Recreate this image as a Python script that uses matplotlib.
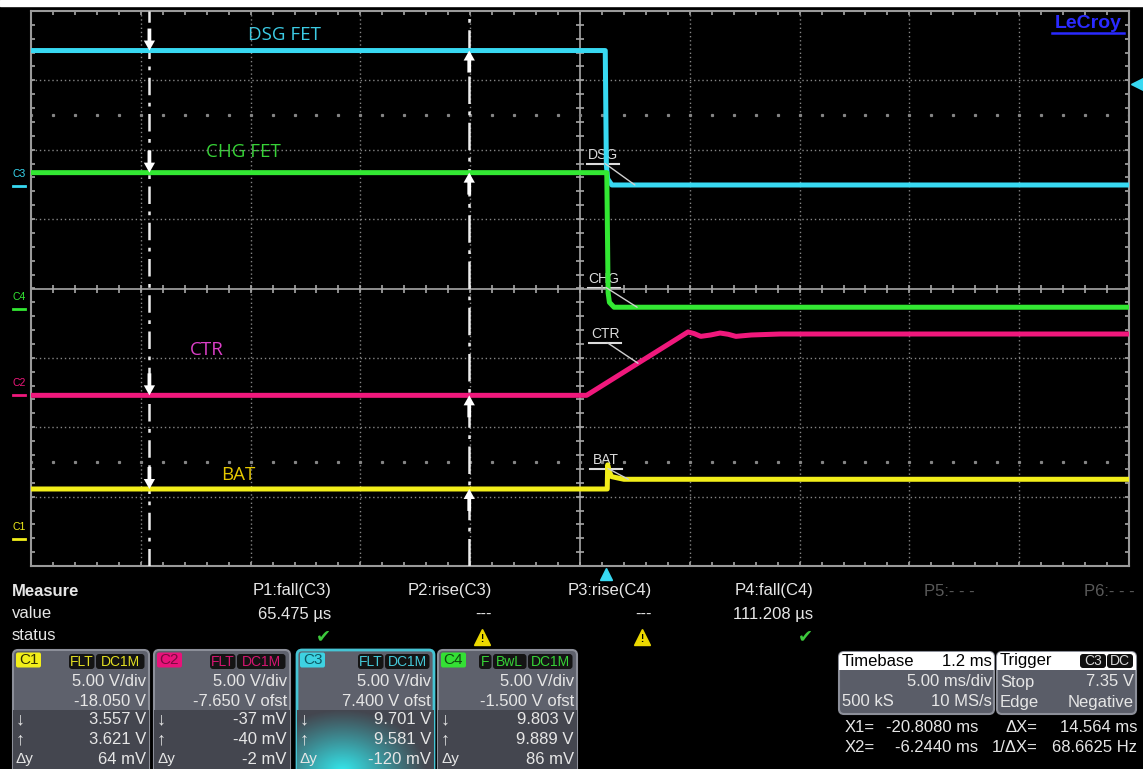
import numpy as np
import matplotlib
matplotlib.use('Agg')
import matplotlib.pyplot as plt
from matplotlib.patches import FancyBboxPatch, Rectangle
from matplotlib.transforms import blended_transform_factory, offset_copy

W, H = 1143, 769

# screen grid in pixels
GX0, GX1, GY0, GY1 = 31, 1129, 11, 566

# timebase / vertical setup
T_LEFT = -26.2          # ms at left edge (delay 1.2 ms)
MS_DIV = 5.0
VOLT_DIV = 5.0
ofst = {'C1': -18.05, 'C2': -7.65, 'C3': 7.40, 'C4': -1.50}

# traces (time in ms, volts)
dsg_t = [-26.2, -0.05, 0.00, 0.06, 0.25, 23.8]
dsg_v = [9.75, 9.75, 1.50, 0.50, 0.06, 0.06]
chg_t = [-26.2, 0.02, 0.08, 0.14, 0.35, 23.8]
chg_v = [9.85, 9.85, 1.20, 0.50, 0.15, 0.15]
ctr_t = [-26.2, -0.9, 3.72, 4.0, 4.3, 4.75, 5.18, 5.55, 5.9, 6.6, 7.9, 23.8]
ctr_v = [-0.05, -0.05, 4.52, 4.40, 4.20, 4.30, 4.44, 4.35, 4.20, 4.30, 4.37, 4.37]
bat_t = [-26.2, 0.04, 0.06, 0.12, 0.24, 0.8, 23.8]
bat_v = [3.60, 3.60, 5.34, 4.90, 4.49, 4.30, 4.30]

X1, X2 = -20.808, -6.244
TRIG_LEVEL = 7.35

CYAN, GREEN, MAGENTA, YELLOW = '#38d9f2', '#33e833', '#f0187c', '#f2ee1a'
GRID = '#858585'
FG = '#e6e6e6'
PANEL = ['Liberation Sans', 'DejaVu Sans']
LABEL = ['Open Sans', 'DejaVu Sans']

fig = plt.figure(figsize=(W / 100, H / 100), dpi=100, facecolor='black')
pan = fig.add_axes([0, 0, 1, 1], zorder=0)
pan.axis('off')
ax = fig.add_axes([GX0 / W, 1 - GY1 / H, (GX1 - GX0) / W, (GY1 - GY0) / H], zorder=1)
ax.set_facecolor('none')
T_RIGHT = T_LEFT + 10 * MS_DIV
ax.set_xlim(T_LEFT, T_RIGHT)
ax.set_ylim(-4, 4)
ax.set_xticks([])
ax.set_yticks([])
for s in ax.spines.values():
    s.set_color('#9a9a9a')
    s.set_linewidth(1.5)


def to_div(v, ch):
    return (np.asarray(v, dtype=float) + ofst[ch]) / VOLT_DIV


# grid
t_center = T_LEFT + 5 * MS_DIV
for k in range(1, 10):
    if k != 5:
        ax.axvline(T_LEFT + k * MS_DIV, color=GRID, lw=1, ls=(0, (1, 2)))
for d in range(-3, 4):
    if d != 0:
        ax.axhline(d, color=GRID, lw=1, ls=(0, (1, 2)))
ax.axvline(t_center, color='#a8a8a8', lw=1.2)
ax.axhline(0, color='#a8a8a8', lw=1.2)
minor_t = np.arange(T_LEFT, T_RIGHT + 0.01, 1.0)
minor_d = np.arange(-4, 4.01, 0.2)
for yy in (0, -4, 4):
    ax.plot(minor_t, np.full_like(minor_t, yy), ls='none', marker='|', ms=6,
            mew=1.2, color='#a8a8a8')
for xx in (t_center, T_LEFT, T_RIGHT):
    ax.plot(np.full_like(minor_d, xx), minor_d, ls='none', marker='_', ms=6,
            mew=1.2, color='#a8a8a8')
for yy in (2.5, -2.5):
    ax.plot(minor_t, np.full_like(minor_t, yy), ls='none', marker='s', ms=1.3,
            color=GRID)

# cursors
ax.axvline(X1, color='#ececec', lw=1.8, ls=(0, (7, 3, 1.5, 3)), zorder=3)
ax.axvline(X2, color='#ececec', lw=1.8, ls=(0, (11, 3, 1.5, 3)), zorder=3)

traces = [(dsg_t, dsg_v, 'C3', CYAN), (chg_t, chg_v, 'C4', GREEN),
          (ctr_t, ctr_v, 'C2', MAGENTA), (bat_t, bat_v, 'C1', YELLOW)]
for t, v, ch, col in traces:
    ax.plot(t, to_div(v, ch), color=col, lw=3.6, solid_joinstyle='round',
            solid_capstyle='butt', zorder=4)

arrow_style = 'simple,head_length=0.8,head_width=0.9,tail_width=0.3'
for t, v, ch, col in traces:
    for xc, up in ((X1, False), (X2, True)):
        lvl = to_div(np.interp(xc, t, v), ch)
        ax.annotate('', xy=(xc, lvl), xytext=(0, -22 if up else 22),
                    textcoords='offset pixels', zorder=6,
                    arrowprops=dict(arrowstyle=arrow_style, fc='white', ec='none',
                                    shrinkA=0, shrinkB=0, mutation_scale=9))

# trace names
names = [('DSG FET', 285, 35, '#3ccbe4'), ('CHG FET', 243, 152, '#36d236'),
         ('CTR', 207, 350, '#dc3fc8'), ('BAT', 238, 475, '#e6c800')]
for s, x, y, c in names:
    pan.text(x, y, s, color=c, fontsize=13.5, family=LABEL, ha='center', va='center')

# transition call-outs
callouts = [('DSG', 603, 155, dsg_t, dsg_v, 'C3', 1.30),
            ('CHG', 604, 279, chg_t, chg_v, 'C4', 1.40),
            ('CTR', 605, 334, ctr_t, ctr_v, 'C2', 1.44),
            ('BAT', 606, 460, bat_t, bat_v, 'C1', 1.00)]
for s, x, y, t, v, ch, tp in callouts:
    pan.text(x, y, s, color='#dcdcdc', fontsize=10, family=PANEL, ha='center', va='center')
    pan.plot([x - 16, x + 16], [y + 8.5, y + 8.5], color='#dcdcdc', lw=1.5)
    ax.annotate('', xy=(tp, to_div(np.interp(tp, t, v), ch)), xytext=(x + 2, y + 8.5),
                textcoords=pan.transData, zorder=5,
                arrowprops=dict(arrowstyle='-', color='#d0d0d0', lw=1,
                                shrinkA=0, shrinkB=0))

# channel ground markers, trigger markers
trans_y = blended_transform_factory(pan.transData, ax.transData)
trans_lab = offset_copy(trans_y, fig=fig, x=0, y=12, units='dots')
for ch, col in (('C3', CYAN), ('C4', GREEN), ('C2', MAGENTA), ('C1', YELLOW)):
    g = ofst[ch] / VOLT_DIV
    pan.plot([13, 25], [g, g], color=col, lw=2, transform=trans_y)
    pan.text(19, g, ch, color=col, fontsize=7.5, family=PANEL, ha='center',
             va='center', transform=trans_lab)
pan.plot([1137], [to_div(TRIG_LEVEL, 'C3')], marker='<', ms=8, color=CYAN,
         transform=trans_y, ls='none')
trans_x = blended_transform_factory(ax.transData, pan.transData)
pan.plot([0.0], [574], marker='^', ms=9, color=CYAN, transform=trans_x, ls='none')

# top white strip and LeCroy logo
pan.add_patch(Rectangle((0, 0), W, 5.5, color='white', zorder=2))
pan.text(1088, 23, 'LeCroy', color='#2a2aff', fontsize=14, fontweight='bold',
         family=PANEL, ha='center', va='center')
pan.plot([1052, 1124], [33, 33], color='#2a2aff', lw=1.8)


def txt(x, y, s, ha='left', color=FG, size=12, weight='normal', z=5):
    pan.text(x, y, s, ha=ha, va='center', color=color, fontsize=size,
             fontweight=weight, family=PANEL, zorder=z)


# measure table
meas_hdr = ['P1:fall(C3)', 'P2:rise(C3)', 'P3:rise(C4)', 'P4:fall(C4)', 'P5:- - -', 'P6:- - -']
meas_val = ['65.475 µs', '---', '---', '111.208 µs', '', '']
meas_ok = [True, False, False, True, None, None]
col_right = [331, 492, 652, 813, 975, 1135]
txt(12, 591, 'Measure', weight='bold')
txt(12, 614, 'value')
txt(12, 636, 'status')
for i, (hd, val, ok) in enumerate(zip(meas_hdr, meas_val, meas_ok)):
    xr = col_right[i]
    txt(xr, 591, hd, ha='right', color=FG if ok is not None else '#5a5a5a')
    txt(xr, 614, val, ha='right')
    if ok is True:
        pan.text(xr - 8, 636, '\u2714', color='#3cc83c', fontsize=13,
                 family='DejaVu Sans', ha='center', va='center')
    elif ok is False:
        pan.plot([xr - 10], [637], marker='^', ms=11, color='#ecd800', ls='none')
        pan.text(xr - 10, 638.5, '!', color='black', fontsize=7, fontweight='bold',
                 family=PANEL, ha='center', va='center')

# channel boxes
ch_names = ['C1', 'C2', 'C3', 'C4']
ch_vdiv = ['5.00 V/div', '5.00 V/div', '5.00 V/div', '5.00 V/div']
ch_ofst = ['-18.050 V', '-7.650 V ofst', '7.400 V ofst', '-1.500 V ofst']
ch_down = ['3.557 V', '-37 mV', '9.701 V', '9.803 V']
ch_up = ['3.621 V', '-40 mV', '9.581 V', '9.889 V']
ch_dy = ['64 mV', '-2 mV', '-120 mV', '86 mV']
ch_badges = [['FLT', 'DC1M'], ['FLT', 'DC1M'], ['FLT', 'DC1M'], ['F', 'BwL', 'DC1M']]
ch_col = [YELLOW, '#e8127a', '#3ed2e2', '#34e034']
ch_dark = ['#303000', '#7a0a40', '#0c5a66', '#0e4a0e']
ch_badge_txt = ['#e2de22', '#d41470', '#44c8d8', '#36d236']
box_l = [13, 154, 297, 438]
box_r = [149, 290, 434, 577]
badge_w = {'FLT': 27, 'DC1M': 50, 'F': 14, 'BwL': 35}

for i in range(4):
    l, r = box_l[i], box_r[i]
    border = '#46c4d4' if i == 2 else '#8c8f99'
    body = FancyBboxPatch((l, 650), r - l, 130, boxstyle='round,pad=0,rounding_size=5',
                          fc='#5e616c', ec=border, lw=2 if i == 2 else 1.5, zorder=2)
    pan.add_patch(body)
    low = Rectangle((l, 710), r - l, 70, fc='#44464f', ec='none', zorder=2.1)
    pan.add_patch(low)
    low.set_clip_path(body)
    if i == 2:
        yy, xx = np.mgrid[0:90, 0:137]
        rr = np.sqrt(((xx - 45) / 85.0) ** 2 + ((yy - 92) / 62.0) ** 2)
        glow = np.zeros((90, 137, 4))
        glow[..., 0], glow[..., 1], glow[..., 2] = 0.2, 0.92, 0.94
        glow[..., 3] = np.clip(1 - rr, 0, 1) ** 1.1
        im = pan.imshow(glow, extent=(l, r, 769, 679), origin='upper',
                        aspect='auto', zorder=2.2, interpolation='bilinear')
        im.set_clip_path(body)
    # header badges
    pan.add_patch(FancyBboxPatch((l + 3, 652.5), 25, 15, boxstyle='round,pad=0,rounding_size=2',
                                 fc=ch_col[i], ec='none', zorder=3))
    txt(l + 15.5, 660.5, ch_names[i], ha='center', color=ch_dark[i], size=11)
    xr = r - 3
    for b in reversed(ch_badges[i]):
        bw = badge_w[b] if not (b == 'DC1M' and i >= 2) else 46
        pan.add_patch(FancyBboxPatch((xr - bw, 654), bw - 1.5, 15,
                                     boxstyle='round,pad=0,rounding_size=3',
                                     fc='#141414', ec='none', zorder=3))
        txt(xr - bw / 2 - 0.7, 661.5, b, ha='center', color=ch_badge_txt[i], size=10)
        xr -= bw
    txt(r - 3, 682, ch_vdiv[i], ha='right')
    txt(r - 3, 701, ch_ofst[i], ha='right')
    txt(r - 3, 720, ch_down[i], ha='right')
    txt(r - 3, 740, ch_up[i], ha='right')
    txt(r - 3, 759, ch_dy[i], ha='right')
    txt(l + 3, 720, '\u2193', size=13)
    txt(l + 3, 740, '\u2191', size=13)
    txt(l + 3, 759, '\u0394y', size=11)

# timebase and trigger boxes
for l, r in ((839, 994), (997, 1136)):
    box = FancyBboxPatch((l, 652), r - l, 62, boxstyle='round,pad=0,rounding_size=5',
                         fc='#5a5d68', ec='#8c8f99', lw=1.5, zorder=2)
    pan.add_patch(box)
    head = Rectangle((l, 652), r - l, 18, fc='white', ec='none', zorder=2.1)
    pan.add_patch(head)
    head.set_clip_path(box)
txt(842, 661, 'Timebase', color='black')
txt(992, 661, '1.2 ms', ha='right', color='black')
txt(992, 682, '5.00 ms/div', ha='right')
txt(842, 702, '500 kS')
txt(992, 702, '10 MS/s', ha='right')
txt(1000, 661, 'Trigger', color='black')
for b, bl, bw in (('C3', 1080, 26), ('DC', 1107, 26)):
    pan.add_patch(FancyBboxPatch((bl, 654), bw, 14, boxstyle='round,pad=0,rounding_size=3',
                                 fc='#101010', ec='none', zorder=3))
    txt(bl + bw / 2, 661, b, ha='center', color='#d8d8d8', size=10)
txt(1000, 682, 'Stop')
txt(1134, 682, '7.35 V', ha='right')
txt(1000, 702, 'Edge')
txt(1134, 702, 'Negative', ha='right')

txt(845, 727, 'X1=')
txt(978, 727, '-20.8080 ms', ha='right')
txt(1038, 727, '\u0394X=', ha='right')
txt(1137, 727, '14.564 ms', ha='right')
txt(845, 747, 'X2=')
txt(978, 747, '-6.2440 ms', ha='right')
txt(1038, 747, '1/\u0394X=', ha='right')
txt(1137, 747, '68.6625 Hz', ha='right')

pan.set_xlim(0, W)
pan.set_ylim(H, 0)
fig.savefig('out.png', dpi=100, facecolor='black')
